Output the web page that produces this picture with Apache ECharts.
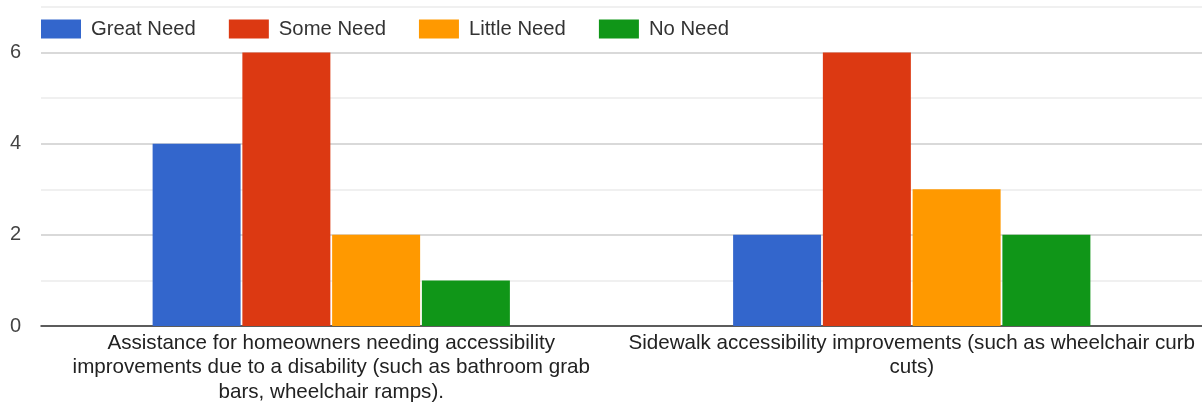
<!DOCTYPE html>
<html><head><meta charset="utf-8">
<script src="https://cdn.jsdelivr.net/npm/echarts@6/dist/echarts.min.js"></script>
<style>html,body{margin:0;padding:0;background:#fff}#c{width:1202px;height:409px}</style>
</head><body><div id="c"></div>
<script>
const categories = [
  "Assistance for homeowners needing accessibility\nimprovements due to a disability (such as bathroom grab\nbars, wheelchair ramps).",
  "Sidewalk accessibility improvements (such as wheelchair curb\ncuts)"
];
const seriesNames = ["Great Need", "Some Need", "Little Need", "No Need"];
const greatNeed = [4, 2];
const someNeed = [6, 6];
const littleNeed = [2, 3];
const noNeed = [1, 2];
const colors = ["#3366cc", "#dc3912", "#ff9900", "#109618"];
const values = [greatNeed, someNeed, littleNeed, noNeed];

const chart = echarts.init(document.getElementById('c'));
chart.setOption({
  animation: false,
  textStyle: { fontFamily: '"Liberation Sans", Arial, sans-serif' },
  legend: {
    left: 41, top: 19, padding: 0, itemWidth: 40, itemHeight: 19, itemGap: 33,
    textStyle: { fontSize: 20.3, color: '#333', padding: [0, 0, 0, 5] },
    data: seriesNames, icon: 'rect'
  },
  grid: { left: 41, right: 0, top: 7, bottom: 83 },
  xAxis: {
    type: 'category', data: categories,
    axisLine: { lineStyle: { color: '#333', width: 1.5 } },
    axisTick: { show: false },
    axisLabel: { fontSize: 20.6, color: '#222', lineHeight: 24.5, margin: 5, interval: 0 }
  },
  yAxis: {
    type: 'value', min: 0, max: 7, interval: 1,
    axisLine: { show: false }, axisTick: { show: false },
    axisLabel: { fontSize: 20, color: '#444', margin: 20,
      formatter: v => (v % 2 === 0 && v < 7) ? String(v) : '' },
    splitLine: { lineStyle: { color: ['#ccc', '#ebebeb'], width: 1.5 } }
  },
  series: seriesNames.map((n, i) => ({
    name: n, type: 'bar', data: values[i],
    barWidth: 88, barGap: '2%',
    itemStyle: { color: colors[i] }
  }))
});
</script></body></html>
